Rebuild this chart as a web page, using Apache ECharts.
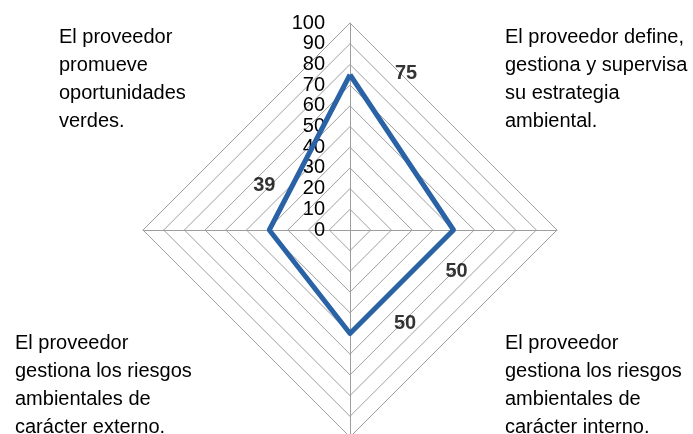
<!DOCTYPE html>
<html><head><meta charset="utf-8">
<script src="https://cdn.jsdelivr.net/npm/echarts@6/dist/echarts.min.js"></script>
<style>html,body{margin:0;padding:0;background:#fff}#c{width:693px;height:434px}</style>
</head><body><div id="c"></div>
<script>
// Axes (in radar order: top, left, bottom, right)
const categories = [
  'El proveedor define,\ngestiona y supervisa\nsu estrategia\nambiental.',
  'El proveedor\npromueve\noportunidades\nverdes.',
  'El proveedor\ngestiona los riesgos\nambientales de\ncarácter externo.',
  'El proveedor\ngestiona los riesgos\nambientales de\ncarácter interno.'
];
const values = [75, 39, 50, 50];
const angles = [0, 270, 180, 90]; // polar angle for each axis (clockwise from top)
const axisMax = 100;
const splitCount = 10;

const FONT = "'Liberation Sans', Arial, sans-serif";
const C = [350, 230], R = 207;

const labelOffsets = [[56, -1], [-5, -45], [55, -10], [3, 41]];
const labelPos = [[59, 23], [505, 23], [15, 329], [505, 329]]; // top-left, top-right, bottom-left, bottom-right
const catForCorner = [1, 0, 2, 3];

const chart = echarts.init(document.getElementById('c'));
chart.setOption({
  animation: false,
  radar: {
    center: C, radius: R, startAngle: 90, shape: 'polygon', splitNumber: splitCount,
    indicator: categories.map((c, i) => i === 0
      ? { name: '', max: axisMax, min: 0, axisLabel: { show: true, color: '#000', fontSize: 20, fontFamily: FONT, margin: 25 } }
      : { name: '', max: axisMax, min: 0 }),
    axisName: { show: false },
    axisLabel: { show: false },
    axisLine: { lineStyle: { color: '#9e9e9e', width: 1 } },
    splitLine: { lineStyle: { color: '#9e9e9e', width: 1 } },
    splitArea: { show: false }
  },
  polar: { center: C, radius: R },
  angleAxis: { type: 'value', min: 0, max: 360, startAngle: 90, show: false },
  radiusAxis: { type: 'value', min: 0, max: axisMax, show: false },
  series: [
    {
      type: 'radar', symbol: 'none',
      lineStyle: { color: '#2a62a6', width: 5 },
      data: [{ value: values }]
    },
    {
      type: 'scatter', coordinateSystem: 'polar', symbolSize: 0, silent: true,
      data: values.map((v, i) => ({
        value: [v, angles[i]],
        label: { show: true, position: 'inside', offset: labelOffsets[i], formatter: String(v),
                 fontFamily: FONT, fontWeight: 'bold', fontSize: 20, color: '#000' }
      }))
    }
  ],
  graphic: labelPos.map((p, k) => ({
    type: 'text', left: p[0], top: p[1],
    style: { text: categories[catForCorner[k]], font: '20px ' + FONT, fill: '#000', lineHeight: 28 }
  }))
});
</script></body></html>
